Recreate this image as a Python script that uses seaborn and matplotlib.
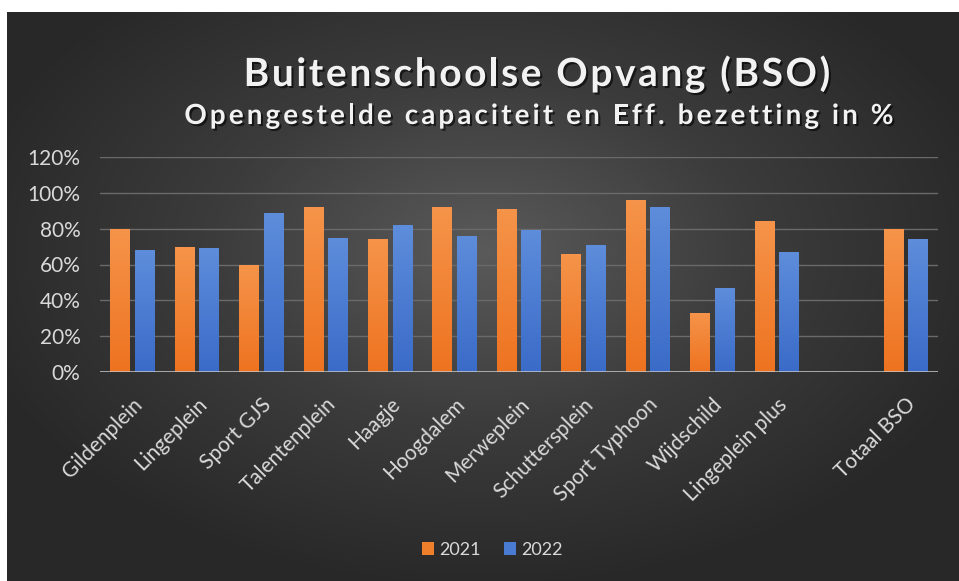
import numpy as np
import pandas as pd
import matplotlib
matplotlib.use("Agg")
import matplotlib.pyplot as plt
import matplotlib.patheffects as pe
from matplotlib.colors import LinearSegmentedColormap, to_rgb
import seaborn as sns

# ---- data ----
categories = ["Gildenplein", "Lingeplein", "Sport GJS", "Talentenplein", "Haagje",
              "Hoogdalem", "Merweplein", "Schuttersplein", "Sport Typhoon",
              "Wijdschild", "Lingeplein plus", " ", "Totaal BSO"]
data_categories = ["Gildenplein", "Lingeplein", "Sport GJS", "Talentenplein", "Haagje",
                   "Hoogdalem", "Merweplein", "Schuttersplein", "Sport Typhoon",
                   "Wijdschild", "Lingeplein plus", "Totaal BSO"]
values_2021 = [0.80, 0.70, 0.60, 0.92, 0.745, 0.92, 0.91, 0.66, 0.96, 0.33, 0.845, 0.80]
values_2022 = [0.68, 0.69, 0.89, 0.75, 0.82, 0.76, 0.795, 0.71, 0.92, 0.47, 0.67, 0.745]
years = ["2021", "2022"]
yticks = [0, 0.2, 0.4, 0.6, 0.8, 1.0, 1.2]
title = "Buitenschoolse Opvang (BSO)"
subtitle = "Opengestelde capaciteit en Eff. bezetting in %"

df = pd.DataFrame({
    "categorie": data_categories * 2,
    "waarde": values_2021 + values_2022,
    "jaar": [years[0]] * len(data_categories) + [years[1]] * len(data_categories),
})

W, H = 959, 581
FONT = "Lato"
TXT = "#d9d9d9"
fig = plt.figure(figsize=(W / 100, H / 100), dpi=100, facecolor="white")

# ---- background (radial gradient) ----
bg = fig.add_axes([7 / W, 0, 1 - 7 / W, (H - 12) / H])
bg.set_axis_off()
yy, xx = np.mgrid[0:1:400j, 0:1:600j]
r = np.sqrt(((xx - 0.5) / 0.75) ** 2 + ((yy - 0.42) / 0.8) ** 2)
r = np.clip(r / 0.75, 0, 1)
bgcmap = LinearSegmentedColormap.from_list("bg", ["#5a5a5a", "#3c3c3c", "#282828"])
bg.imshow(r, cmap=bgcmap, aspect="auto", extent=[0, 1, 0, 1], origin="upper",
          interpolation="bilinear")
bg.set_xlim(0, 1)
bg.set_ylim(0, 1)

# ---- main axes ----
ax = fig.add_axes([100 / W, (H - 372) / H, (938 - 100) / W, (372 - 157) / H])
ax.set_facecolor("none")
palette = {"2021": "#F07F2B", "2022": "#4A7BD2"}
sns.barplot(data=df, x="categorie", y="waarde", hue="jaar", order=categories,
            hue_order=years, palette=palette, saturation=1, width=0.76, gap=0.2,
            ax=ax, legend=True, zorder=3, errorbar=None)

ax.set_ylim(0, 1.2)
ax.set_xlim(-0.5, len(categories) - 0.5)
ax.set_yticks(yticks)
ax.set_yticklabels([f"{int(round(t * 100))}%" for t in yticks])
ax.set_xlabel("")
ax.set_ylabel("")
for s in ax.spines.values():
    s.set_visible(False)
ax.grid(axis="y", color="#6a6a6a", linewidth=1.0, zorder=0)
ax.set_axisbelow(True)
ax.axhline(0, color="#c8c8c8", linewidth=1.8, zorder=4)
ax.tick_params(axis="both", length=0, colors=TXT)
ax.tick_params(axis="y", pad=14, labelsize=15)
ax.tick_params(axis="x", pad=16, labelsize=15)
for lab in ax.get_xticklabels() + ax.get_yticklabels():
    lab.set_family(FONT)
for lab in ax.get_xticklabels():
    lab.set_rotation(45)
    lab.set_ha("right")
    lab.set_rotation_mode("anchor")

# gradient fill for bars
grads = {
    "2021": (to_rgb(palette["2021"]), LinearSegmentedColormap.from_list("o", ["#EE7320", "#F5944A"])),
    "2022": (to_rgb(palette["2022"]), LinearSegmentedColormap.from_list("b", ["#3A6BC8", "#5E8DDB"])),
}
grad = np.linspace(0, 1, 256).reshape(-1, 1)
for p in list(ax.patches):
    h = p.get_height()
    if not np.isfinite(h) or h <= 0:
        continue
    fc = np.array(p.get_facecolor()[:3])
    best = min(grads.values(), key=lambda v: np.sum((np.array(v[0]) - fc) ** 2))
    x0 = p.get_x()
    w = p.get_width()
    im = ax.imshow(grad, cmap=best[1], aspect="auto", origin="lower",
                   extent=[x0, x0 + w, 0, h], zorder=3.5, interpolation="bilinear")
    im.set_clip_path(p)
ax.set_xlim(-0.5, len(categories) - 0.5)
ax.set_ylim(0, 1.2)

# legend
leg = ax.get_legend()
handles = leg.legend_handles
leg.remove()
fig.legend(handles, years, loc="center", bbox_to_anchor=(492 / W, 1 - 550 / H),
           ncol=2, frameon=False, prop={"family": FONT, "size": 13}, labelcolor=TXT,
           handlelength=0.7, handleheight=0.7, handletextpad=0.25, columnspacing=1.3)

# titles with letter spacing
renderer = fig.canvas.get_renderer()


def text_w(s, **kw):
    t = fig.text(0, 0, s, **kw)
    w = t.get_window_extent(renderer).width
    t.remove()
    return w


def spaced_text(s, xc_px, yc_px, spacing, **kw):
    total = text_w(s, **kw) + spacing * (len(s) - 1)
    left = xc_px - total / 2
    for i, ch in enumerate(s):
        if ch == " ":
            continue
        inkleft = text_w(s[:i + 1], **kw) - text_w(ch, **kw)
        fig.text((left + inkleft + spacing * i) / W, 1 - yc_px / H, ch,
                 ha="left", va="baseline", **kw)


shadow = [pe.withSimplePatchShadow(offset=(1.5, -1.5), shadow_rgbFace="black", alpha=0.6)]
spaced_text(title, 537, 86, 2.6, fontsize=28, fontweight="bold", color="#f2f2f2",
            family=FONT, path_effects=shadow)
spaced_text(subtitle, 539, 124, 3.1, fontsize=20, fontweight="bold", color="#f2f2f2",
            family=FONT, path_effects=shadow)

fig.savefig("out.png", dpi=100, facecolor="white")
